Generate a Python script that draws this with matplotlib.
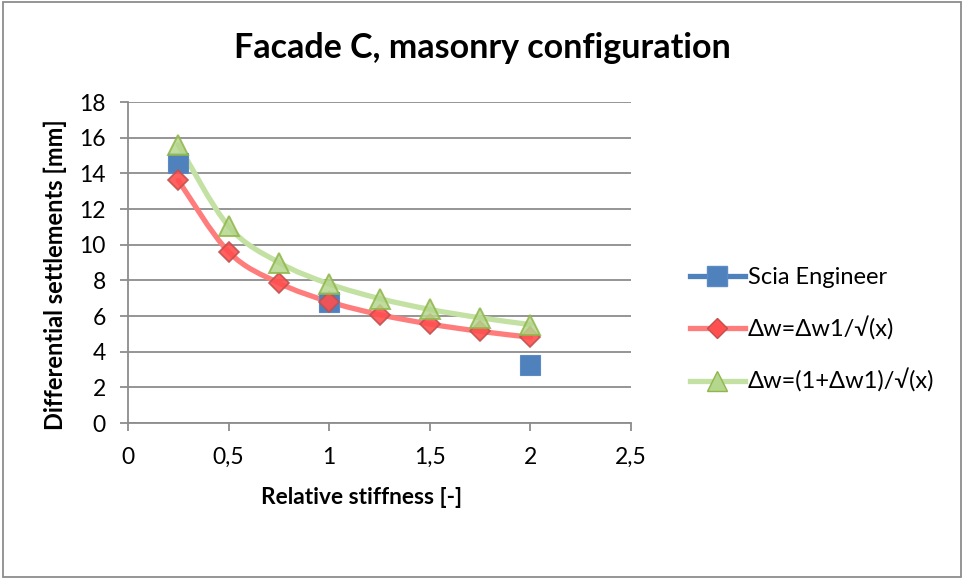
import numpy as np
import matplotlib
matplotlib.use("Agg")
import matplotlib.pyplot as plt
from matplotlib.path import Path
from matplotlib.patches import PathPatch, Rectangle
from matplotlib.lines import Line2D

plt.rcParams['font.family'] = ['Lato', 'DejaVu Sans']

# Data
x_scia = [0.25, 1.0, 2.0]
y_scia = [14.6, 6.8, 3.25]
x_calc = [0.25, 0.5, 0.75, 1.0, 1.25, 1.5, 1.75, 2.0]
y_red = [13.6, 9.6, 7.85, 6.8, 6.08, 5.55, 5.14, 4.81]
y_green = [15.6, 11.03, 9.0, 7.8, 6.98, 6.37, 5.9, 5.52]
x_ticks = [0, 0.5, 1, 1.5, 2, 2.5]
x_ticklabels = ['0', '0,5', '1', '1,5', '2', '2,5']
y_ticks = list(range(0, 19, 2))
labels = ['Scia Engineer', 'Δw=Δw1/√(x)', 'Δw=(1+Δw1)/√(x)']

fig = plt.figure(figsize=(9.64, 5.79), dpi=100)
ax = fig.add_axes([0.1328, 0.2694, 0.5218, 0.5544])

def smooth_path(xs, ys, t=1/6):
    xs = np.asarray(xs, float); ys = np.asarray(ys, float)
    pts = np.column_stack([xs, ys])
    verts = [pts[0]]; codes = [Path.MOVETO]
    n = len(pts)
    for i in range(n - 1):
        p0 = pts[i - 1] if i > 0 else pts[i]
        p1 = pts[i]; p2 = pts[i + 1]
        p3 = pts[i + 2] if i + 2 < n else pts[i + 1]
        c1 = p1 + (p2 - p0) * t
        c2 = p2 - (p3 - p1) * t
        verts += [c1, c2, p2]; codes += [Path.CURVE4] * 3
    return Path(verts, codes)

green_line = '#c4e1a4'
red_line = '#ff7c7c'
ax.add_patch(PathPatch(smooth_path(x_calc, y_green), fill=False, lw=3.8,
                       edgecolor=green_line, zorder=3, capstyle='round'))
ax.add_patch(PathPatch(smooth_path(x_calc, y_red), fill=False, lw=3.8,
                       edgecolor=red_line, zorder=3, capstyle='round'))

ax.plot(x_scia, y_scia, ls='none', marker='s', ms=14, mfc='#4f81bd',
        mec='#5b8ac4', mew=0.8, zorder=4)
ax.plot(x_calc, y_red, ls='none', marker='D', ms=10, mfc='#ff4f4f',
        mec='#c0504d', mew=1.2, zorder=5, alpha=0.9)
ax.plot(x_calc, y_green, ls='none', marker='^', ms=14, mfc='#b5d68d',
        mec='#8fb64a', mew=1.4, zorder=6, alpha=0.85)

ax.set_xlim(0, 2.5)
ax.set_ylim(0, 18)
ax.set_xticks(x_ticks)
ax.set_xticklabels(x_ticklabels)
ax.set_yticks(y_ticks)
ax.yaxis.grid(True, color='#8c8c8c', lw=1.3)
ax.set_axisbelow(True)
for s in ['top', 'right']:
    ax.spines[s].set_visible(False)
for s in ['left', 'bottom']:
    ax.spines[s].set_color('#8c8c8c')
    ax.spines[s].set_linewidth(1.3)
ax.tick_params(axis='both', colors='#8c8c8c', width=1.3, length=6, labelsize=16.5,
               labelcolor='black', direction='out')
ax.tick_params(axis='x', pad=11)
ax.tick_params(axis='y', pad=10)
ax.set_xlabel('Relative stiffness [-]', fontsize=16.3, fontweight='bold')
ax.set_ylabel('Differential settlements [mm]', fontsize=17, fontweight='bold')
ax.xaxis.set_label_coords(0.465, -0.2)
ax.yaxis.set_label_coords(-0.121, 0.461)

fig.text(0.5, 0.917, 'Facade C, masonry configuration', ha='center', va='center',
         fontsize=24.5, fontweight='bold')

handles = [
    Line2D([], [], color='#4f81bd', lw=3.8, marker='s', ms=14, mfc='#4f81bd', mec='#5b8ac4'),
    Line2D([], [], color=red_line, lw=3.8, marker='D', ms=10, mfc='#ff4f4f', mec='#c0504d'),
    Line2D([], [], color=green_line, lw=3.8, marker='^', ms=14, mfc='#b5d68d', mec='#8fb64a'),
]
fig.legend(handles, labels, loc='center left', bbox_to_anchor=(0.694, 0.43),
           frameon=False, fontsize=17, handlelength=2.3, handletextpad=0.15,
           labelspacing=1.2)

fig.patches.append(Rectangle((0.003, 0.004), 0.994, 0.992, transform=fig.transFigure,
                             fill=False, edgecolor='#8c8c8c', lw=1.3))

fig.savefig('out.png', dpi=100)
